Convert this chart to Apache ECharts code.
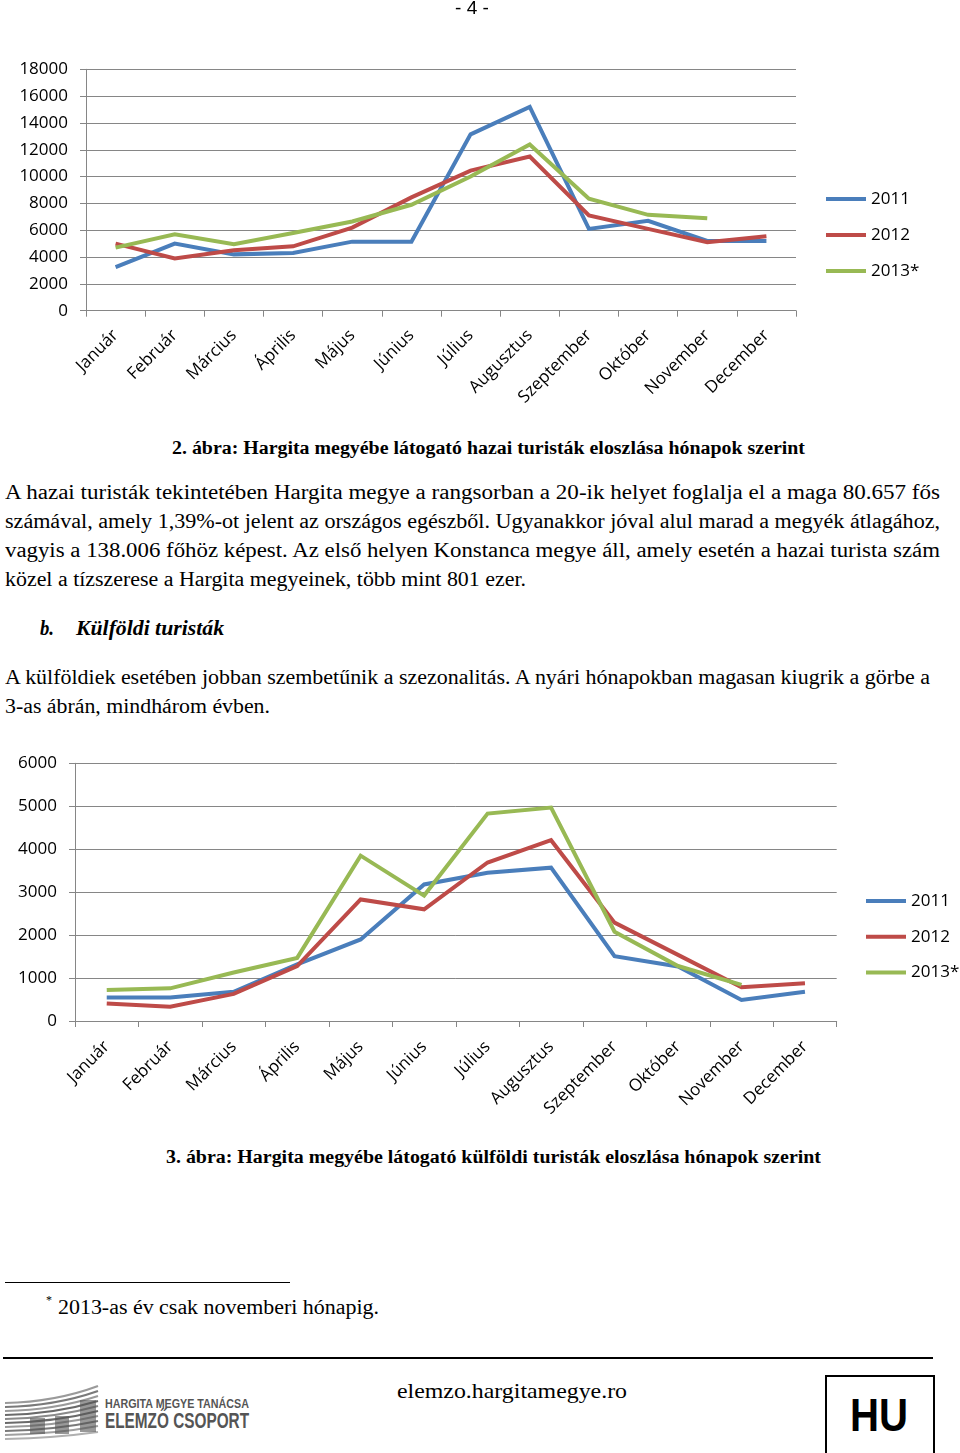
<!DOCTYPE html>
<html>
<head>
<meta charset="utf-8">
<script src="https://cdn.jsdelivr.net/npm/echarts@6/dist/echarts.min.js"></script>
<style>
  html, body { margin:0; padding:0; background:#fff; }
  body { width:960px; height:1453px; position:relative; overflow:hidden; }
  .t { position:absolute; white-space:nowrap; line-height:1; color:#000; }
  .t span { display:inline-block; transform-origin:0 50%; }
  .serif { font-family:"Times New Roman","Liberation Serif","DejaVu Serif",serif; }
  .sans { font-family:"Liberation Sans","DejaVu Sans",sans-serif; }
  #c1 { position:absolute; left:0; top:0; width:960px; height:430px; }
  #c2 { position:absolute; left:0; top:740px; width:960px; height:400px; }
  .hr { position:absolute; background:#000; }
</style>
</head>
<body>
<div id="c1"></div>
<div id="c2"></div>

<script>
// ---- data ----
const months = ["Január","Február","Március","Április","Május","Június","Július","Augusztus","Szeptember","Október","November","December"];
const seriesNames = ["2011","2012","2013*"];
// Chart 2: hazai turisták
const hazai2011 = [3250, 5000, 4200, 4300, 5150, 5150, 13150, 15200, 6100, 6700, 5200, 5200];
const hazai2012 = [5000, 3900, 4500, 4800, 6200, 8450, 10450, 11500, 7100, 6100, 5100, 5550];
const hazai2013 = [4700, 5700, 4950, 5800, 6650, 7900, 10000, 12400, 8350, 7150, 6900, null];
const hazaiTicks = [0, 2000, 4000, 6000, 8000, 10000, 12000, 14000, 16000, 18000];
// Chart 3: külföldi turisták
const kulf2011 = [550, 550, 680, 1320, 1900, 3180, 3450, 3570, 1510, 1270, 490, 680];
const kulf2012 = [410, 330, 630, 1280, 2830, 2600, 3690, 4210, 2290, 1540, 785, 880];
const kulf2013 = [720, 760, 1130, 1470, 3850, 2920, 4830, 4970, 2080, 1280, 840, null];
const kulfTicks = [0, 1000, 2000, 3000, 4000, 5000, 6000];
</script>

<!-- texts -->
<div class="t sans" data-x="455" data-y="8" data-w="34" style="font-size:18px">- 4 -</div>
<div class="t serif" data-x="172" data-y="448" data-w="633" style="font-size:18px;font-weight:bold">2. ábra: Hargita megyébe látogató hazai turisták eloszlása hónapok szerint</div>

<div class="t serif" data-x="5" data-y="492" data-w="935" style="font-size:20px">A hazai turisták tekintetében Hargita megye a rangsorban a 20-ik helyet foglalja el a maga 80.657 fős</div>
<div class="t serif" data-x="5" data-y="521" data-w="935" style="font-size:20px">számával, amely 1,39%-ot jelent az országos egészből. Ugyanakkor jóval alul marad a megyék átlagához,</div>
<div class="t serif" data-x="5" data-y="550" data-w="935" style="font-size:20px">vagyis a 138.006 főhöz képest. Az első helyen Konstanca megye áll, amely esetén a hazai turista szám</div>
<div class="t serif" data-x="5" data-y="579" data-w="521" style="font-size:20px">közel a tízszerese a Hargita megyeinek, több mint 801 ezer.</div>

<div class="t serif" data-x="40" data-y="628" data-w="14" style="font-size:20px;font-weight:bold;font-style:italic">b.</div>
<div class="t serif" data-x="76" data-y="628" data-w="148" style="font-size:20px;font-weight:bold;font-style:italic">Külföldi turisták</div>

<div class="t serif" data-x="5" data-y="677" data-w="925" style="font-size:20px">A külföldiek esetében jobban szembetűnik a szezonalitás. A nyári hónapokban magasan kiugrik a görbe a</div>
<div class="t serif" data-x="5" data-y="706" data-w="265" style="font-size:20px">3-as ábrán, mindhárom évben.</div>

<div class="t serif" data-x="166" data-y="1157" data-w="655" style="font-size:18px;font-weight:bold">3. ábra: Hargita megyébe látogató külföldi turisták eloszlása hónapok szerint</div>

<div class="hr" style="left:5px;top:1282px;width:285px;height:1px"></div>
<div class="t serif" data-x="46" data-y="1299" data-w="6" style="font-size:13px">*</div>
<div class="t serif" data-x="58" data-y="1307" data-w="321" style="font-size:20px">2013-as év csak novemberi hónapig.</div>

<div class="hr" style="left:3px;top:1357px;width:930px;height:2px"></div>
<div class="t serif" data-x="397" data-y="1391" data-w="230" style="font-size:22px">elemzo.hargitamegye.ro</div>

<div style="position:absolute;left:825px;top:1375px;width:110px;height:80px;border:2px solid #000;box-sizing:border-box"></div>
<div class="t sans" data-x="850" data-y="1415" data-w="58" style="font-size:46px;font-weight:bold">HU</div>

<svg style="position:absolute;left:0;top:1380px" width="100" height="65">
  <g fill="none" stroke-width="2.2">
    <path d="M5,23 Q55,22 98,6" stroke="#9a9a9a"/>
    <path d="M5,27 Q55,26 98,11" stroke="#7a7a7a"/>
    <path d="M5,31 Q55,30 98,16" stroke="#9a9a9a"/>
    <path d="M5,35 Q55,34 98,21" stroke="#6a6a6a"/>
    <path d="M5,39 Q55,38 98,26" stroke="#8a8a8a"/>
    <path d="M5,43 Q55,42 98,31" stroke="#6a6a6a"/>
    <path d="M5,47 Q55,46 98,36" stroke="#9a9a9a"/>
    <path d="M5,51 Q55,50 98,41" stroke="#7a7a7a"/>
    <path d="M5,55 Q55,54 98,46" stroke="#a0a0a0"/>
    <path d="M5,59 Q55,58 98,52" stroke="#b0b0b0"/>
  </g>
  <g fill="#555" opacity="0.6">
    <rect x="30" y="38" width="15" height="16"/>
    <rect x="55" y="36" width="14" height="18"/>
    <rect x="80" y="20" width="16" height="32"/>
  </g>
</svg>
<div class="t sans" data-x="105" data-y="1404" data-w="144" style="font-size:12px;font-weight:bold;color:#555">HARGITA MEGYE TANÁCSA</div>
<div class="t sans" data-x="105" data-y="1421" data-w="144" style="font-size:22px;font-weight:bold;color:#555">ELEMZŐ CSOPORT</div>

<script>
// position & fit the text lines
document.querySelectorAll('.t').forEach(el => {
  const txt = el.textContent;
  el.textContent = '';
  const sp = document.createElement('span');
  sp.textContent = txt;
  el.appendChild(sp);
  const x = +el.dataset.x, y = +el.dataset.y, w = +el.dataset.w;
  el.style.left = x + 'px';
  const h = el.getBoundingClientRect().height || 20;
  el.style.top = (y - h / 2) + 'px';
  const nat = sp.getBoundingClientRect().width;
  if (nat > 0) sp.style.transform = 'scaleX(' + (w / nat) + ')';
});

const FONT = '"Open Sans", "Liberation Sans", sans-serif';
const colors = ['#4A7EBB', '#BE4B48', '#98B954'];
const gridColor = '#868686';

function makeOption(grid, ticks, data, legendPos, labelMargin) {
  const step = ticks[1] - ticks[0];
  return {
    animation: false,
    color: colors,
    textStyle: { fontFamily: FONT },
    grid: grid,
    legend: {
      orient: 'vertical',
      left: legendPos.left,
      top: legendPos.top,
      padding: 0,
      icon: 'rect',
      itemWidth: 40,
      itemHeight: 4,
      itemGap: legendPos.gap,
      textStyle: { fontFamily: FONT, fontSize: 17, color: '#000', lineHeight: 20 },
      data: seriesNames
    },
    xAxis: {
      type: 'category',
      data: months,
      boundaryGap: true,
      axisLine: { show: true, lineStyle: { color: gridColor, width: 1 } },
      axisTick: { show: true, length: 6, alignWithLabel: false, lineStyle: { color: gridColor } },
      axisLabel: { rotate: 45, margin: labelMargin, fontFamily: FONT, fontSize: 17, color: '#000', interval: 0 }
    },
    yAxis: {
      type: 'value',
      min: ticks[0],
      max: ticks[ticks.length - 1],
      interval: step,
      axisLine: { show: true, lineStyle: { color: gridColor, width: 1 } },
      axisTick: { show: true, length: 6, lineStyle: { color: gridColor } },
      splitLine: { show: true, lineStyle: { color: gridColor, width: 1 } },
      axisLabel: { margin: 18, fontFamily: FONT, fontSize: 17, color: '#000', formatter: v => String(v) }
    },
    series: data.map((d, i) => ({
      name: seriesNames[i],
      type: 'line',
      data: d,
      showSymbol: false,
      symbol: 'none',
      lineStyle: { width: 4, color: colors[i], join: 'miter' },
      itemStyle: { color: colors[i] },
      connectNulls: false
    }))
  };
}

const c1 = echarts.init(document.getElementById('c1'), null, { renderer: 'canvas' });
c1.setOption(makeOption(
  { left: 86, top: 69.3, width: 710, height: 241.4, containLabel: false },
  hazaiTicks, [hazai2011, hazai2012, hazai2013],
  { left: 826, top: 189, gap: 16 }, 22
));

const c2 = echarts.init(document.getElementById('c2'), null, { renderer: 'canvas' });
c2.setOption(makeOption(
  { left: 75, top: 23.3, width: 761.7, height: 257.7, containLabel: false },
  kulfTicks, [kulf2011, kulf2012, kulf2013],
  { left: 866, top: 151, gap: 15.7 }, 23
));
</script>
</body>
</html>
